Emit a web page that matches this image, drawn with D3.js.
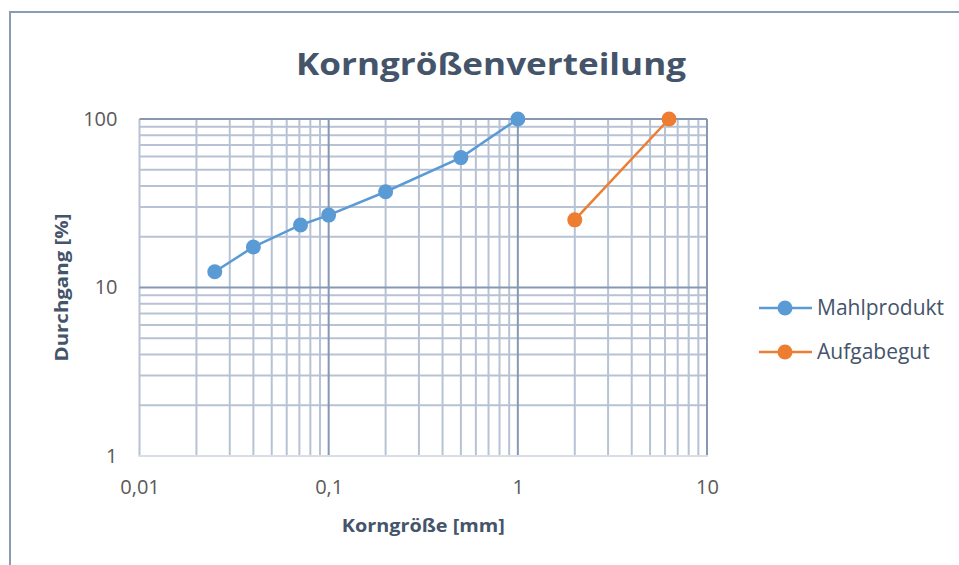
<!DOCTYPE html>
<html><head><meta charset="utf-8">
<script src="https://cdn.jsdelivr.net/npm/d3@7"></script>
<style>
body{margin:0;background:#fff;}
svg{display:block;font-family:"Open Sans","Noto Sans",sans-serif;}
</style></head>
<body>
<svg id="c" width="959" height="565"></svg>
<script>
// ---- data ----
const mahlX = [0.025, 0.04, 0.071, 0.1, 0.2, 0.5, 1];
const mahlY = [12.4, 17.4, 23.5, 26.9, 37.0, 59.0, 100];
const aufX = [2, 6.3];
const aufY = [25.2, 100];
const seriesNames = ["Mahlprodukt", "Aufgabegut"];
const seriesColors = ["#5b9bd5", "#ed7d31"];
const xTickLabels = ["0,01", "0,1", "1", "10"];
const xTickValues = [0.01, 0.1, 1, 10];
const yTickLabels = ["1", "10", "100"];
const yTickValues = [1, 10, 100];

const svg = d3.select("#c");
const L = 139.5, R = 707, T = 119, B = 456;
const x = d3.scaleLog().domain([0.01, 10]).range([L, R]);
const y = d3.scaleLog().domain([1, 100]).range([B, T]);

// outer chart border
svg.append("path").attr("d", `M10,570 L10,12 L965,12`).attr("fill","none")
  .attr("stroke", "#8a9cb5").attr("stroke-width", 2);

// minor values
const minorX = [], minorY = [];
[0.01, 0.1, 1].forEach(d => { for (let k = 2; k <= 9; k++) minorX.push(d * k); });
[1, 10].forEach(d => { for (let k = 2; k <= 9; k++) minorY.push(d * k); });

const g = svg.append("g");
const minorC = "#b7c2d4", majorC = "#8698b2";
g.selectAll(".mx").data(minorX).join("line")
  .attr("x1", d => x(d)).attr("x2", d => x(d)).attr("y1", T).attr("y2", B)
  .attr("stroke", minorC).attr("stroke-width", 2);
g.selectAll(".my").data(minorY).join("line")
  .attr("y1", d => y(d)).attr("y2", d => y(d)).attr("x1", L).attr("x2", R)
  .attr("stroke", minorC).attr("stroke-width", 2);
// major
g.selectAll(".Mx").data(xTickValues.slice(1)).join("line")
  .attr("x1", d => x(d)).attr("x2", d => x(d)).attr("y1", T).attr("y2", B)
  .attr("stroke", majorC).attr("stroke-width", 2);
g.append("line").attr("x1", x(0.01)).attr("x2", x(0.01)).attr("y1", T).attr("y2", B)
  .attr("stroke", minorC).attr("stroke-width", 2);
g.selectAll(".My").data(yTickValues.slice(1)).join("line")
  .attr("y1", d => y(d)).attr("y2", d => y(d)).attr("x1", L).attr("x2", R)
  .attr("stroke", majorC).attr("stroke-width", 2);
g.append("line").attr("y1", y(1)).attr("y2", y(1)).attr("x1", L - 1).attr("x2", R + 1)
  .attr("stroke", "#d9dde4").attr("stroke-width", 2);

// axes labels via d3 axes
const xAxis = d3.axisBottom(x).tickValues(xTickValues).tickFormat((d, i) => xTickLabels[i]).tickSize(0).tickPadding(24);
const xa = svg.append("g").attr("transform", `translate(0,${B})`).call(xAxis);
const yAxis = d3.axisLeft(y).tickValues(yTickValues).tickFormat((d, i) => yTickLabels[i]).tickSize(0).tickPadding(22);
const ya = svg.append("g").attr("transform", `translate(${L},0)`).call(yAxis);
[xa, ya].forEach(a => {
  a.select(".domain").remove();
  a.selectAll("text").attr("fill", "#595959").style("font-size", "20px").style("font-family", '"Open Sans",sans-serif');
});

// series
const series = [
  {name: seriesNames[0], color: seriesColors[0], xs: mahlX, ys: mahlY},
  {name: seriesNames[1], color: seriesColors[1], xs: aufX, ys: aufY}
];
const line = d3.line().x(d => x(d[0])).y(d => y(d[1]));
series.forEach(s => {
  const pts = s.xs.map((v, i) => [v, s.ys[i]]);
  svg.append("path").datum(pts).attr("d", line).attr("fill", "none")
    .attr("stroke", s.color).attr("stroke-width", 2.5);
  svg.append("g").selectAll("circle").data(pts).join("circle")
    .attr("cx", d => x(d[0])).attr("cy", d => y(d[1])).attr("r", 7.5)
    .attr("fill", s.color);
});

// title
svg.append("text").attr("x", 491).attr("y", 75).attr("text-anchor", "middle")
  .attr("fill", "#44546a").style("font-size", "31px").style("font-weight", "700")
  .attr("textLength", 390).attr("lengthAdjust", "spacingAndGlyphs")
  .text("Korngrößenverteilung");

// axis titles
svg.append("text").attr("x", (L + R) / 2).attr("y", 532).attr("text-anchor", "middle")
  .attr("fill", "#44546a").style("font-size", "18px").style("font-weight", "700")
  .attr("textLength", 163).attr("lengthAdjust", "spacingAndGlyphs")
  .text("Korngröße [mm]");
svg.append("text").attr("transform", `translate(68,${(T + B) / 2}) rotate(-90)`)
  .attr("text-anchor", "middle")
  .attr("fill", "#44546a").style("font-size", "18px").style("font-weight", "700")
  .attr("textLength", 148).attr("lengthAdjust", "spacingAndGlyphs")
  .text("Durchgang [%]");

// legend
const lg = svg.append("g");
series.forEach((s, i) => {
  const cy = 308 + i * 44;
  lg.append("line").attr("x1", 759).attr("x2", 812).attr("y1", cy).attr("y2", cy)
    .attr("stroke", s.color).attr("stroke-width", 2.5);
  lg.append("circle").attr("cx", 785).attr("cy", cy).attr("r", 7.5).attr("fill", s.color);
  lg.append("text").attr("x", 817).attr("y", cy + 7).attr("fill", "#44546a")
    .style("font-size", "21px").text(s.name);
});
</script>
</body></html>
